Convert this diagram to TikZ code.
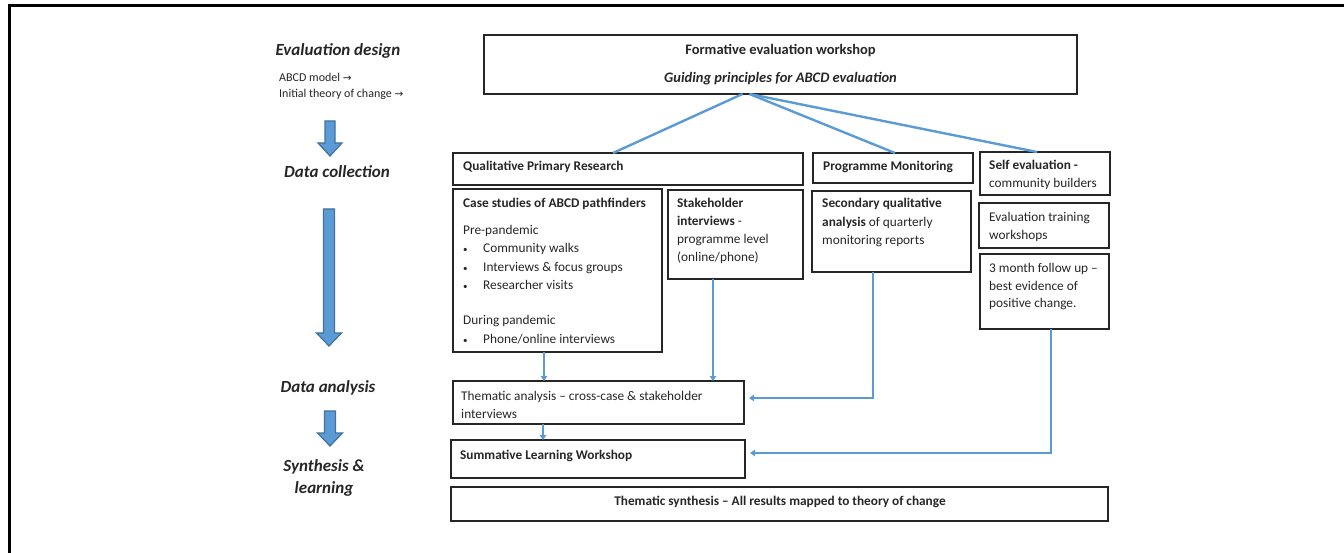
\documentclass[tikz,border=0pt]{standalone}
\usepackage{fontspec}
\setmainfont{Carlito}
\newfontfamily\symfont{DejaVu Sans}
\usetikzlibrary{arrows.meta,fit}
\definecolor{lineblue}{HTML}{5B9BD5}
\definecolor{arrowedge}{HTML}{41719C}
\definecolor{ink}{HTML}{262626}
\newcommand\bul{\makebox[20pt][l]{\fontsize{9}{9}\selectfont\textbullet}}
\newcommand\rarr{{\symfont\fontsize{10.5}{10}\selectfont→}}
\begin{document}
\begin{tikzpicture}[x=1pt,y=-1pt,
  box/.style={draw=black!85, line width=1.5pt, inner sep=0pt, outer sep=0pt},
  txt/.style={anchor=base west, inner sep=0pt, align=left, text=ink, font=\fontsize{13.3}{18}\selectfont},
  ctxt/.style={anchor=base, inner sep=0pt, align=center, text=ink},
  stage/.style={anchor=base, inner sep=0pt, align=center, text=ink, font=\fontsize{17}{22}\selectfont\bfseries\itshape},
  small/.style={anchor=base west, inner sep=0pt, text=ink, font=\fontsize{12}{14}\selectfont},
  fanline/.style={draw=lineblue, line width=2.4pt},
  flow/.style={draw=lineblue, line width=1.8pt, -{Triangle[length=5pt,width=6.5pt]}},
  bigarrow/.style={fill=lineblue, draw=arrowedge, line width=1.2pt, line join=miter},
]
\useasboundingbox (0,0) rectangle (1344,553);
% outer frame (top and left edges only)
\draw[line width=3pt] (9.5,553) -- (9.5,5.5) -- (1344,5.5);

% stage labels
\node[stage] (evald) at (338,56) {Evaluation design};
\node[small] (abcd) at (279,82) {ABCD model \rarr};
\node[small] (itoc) at (279,98) {Initial theory of change \rarr};
\node[stage] (dcoll) at (337,178) {Data collection};
\node[stage] (danal) at (328,392) {Data analysis};
\node[stage] (synth) at (324,493) {Synthesis \&\\learning};

% big arrows
\draw[bigarrow] (325,121) -- (335,121) -- (335,143) -- (342,143) -- (330,156) -- (318,143) -- (325,143) -- cycle;
\draw[bigarrow] (323.5,209) -- (334.5,209) -- (334.5,333) -- (341.5,333) -- (329,346) -- (316.5,333) -- (323.5,333) -- cycle;
\draw[bigarrow] (324.5,411) -- (335.5,411) -- (335.5,433) -- (342.5,433) -- (330,446) -- (317.5,433) -- (324.5,433) -- cycle;

% boxes
\node[box, fit={(484,35) (1077,94)}] (top) {};
\node[box, fit={(453,153) (803,185)}] (qpr) {};
\node[box, fit={(813,153) (973,183)}] (pm) {};
\node[box, fit={(980,152) (1110,195)}] (se) {};
\node[box, fit={(453,189) (662,352)}] (case) {};
\node[box, fit={(668,190) (803,279)}] (stake) {};
\node[box, fit={(812,191) (971,272)}] (sec) {};
\node[box, fit={(979,203) (1109,248)}] (etw) {};
\node[box, fit={(980,254) (1109,329)}] (three) {};
\node[box, fit={(453,381) (744,424)}] (tha) {};
\node[box, fit={(451,440) (745,478)}] (sum) {};
\node[box, fit={(451,487) (1108,521)}] (syn) {};

% box texts (multi-line nodes are anchored at the baseline of their last line)
\node[ctxt, font=\fontsize{14.5}{18}\selectfont\bfseries] (toptitle) at (780.5,55) {Formative evaluation workshop};
\node[ctxt, font=\fontsize{14.5}{18}\selectfont\bfseries\itshape] (topsub) at (780.5,83) {Guiding principles for ABCD evaluation};
\node[txt, font=\fontsize{13.3}{18}\selectfont\bfseries] (qprt) at (463,171) {Qualitative Primary Research};
\node[txt, font=\fontsize{13.3}{18}\selectfont\bfseries] (pmt) at (823,171) {Programme Monitoring};
\node[txt] (set) at (989,188) {\textbf{Self evaluation -}\\community builders};
\node[txt] (caset) at (463,343) {\textbf{Case studies of ABCD pathfinders}\\[9pt]
Pre-pandemic\\
\bul Community walks\\
\bul Interviews \& focus groups\\
\bul Researcher visits\\
\mbox{}\\
During pandemic\\
\bul Phone/online interviews};
\node[txt] (staket) at (677,262) {\textbf{Stakeholder}\\\textbf{interviews} -\\programme level\\(online/phone)};
\node[txt, font=\fontsize{13.3}{18.5}\selectfont] (sect) at (822,245) {\textbf{Secondary qualitative}\\\textbf{analysis} of quarterly\\monitoring reports};
\node[txt, font=\fontsize{13.3}{17.5}\selectfont] (etwt) at (989,239.5) {Evaluation training\\workshops};
\node[txt, font=\fontsize{13.3}{17.5}\selectfont] (threet) at (989,308) {3 month follow up –\\best evidence of\\positive change.};
\node[txt] (that) at (461,418) {Thematic analysis – cross-case \& stakeholder\\interviews};
\node[txt, font=\fontsize{13.3}{18}\selectfont\bfseries] (sumt) at (460,459) {Summative Learning Workshop};
\node[ctxt, font=\fontsize{13.3}{18}\selectfont\bfseries] (synt) at (780,505) {Thematic synthesis – All results mapped to theory of change};

% fan connectors from the formative workshop
\draw[fanline] ([xshift=-38pt]top.south) -- ([xshift=-15pt]qpr.north);
\draw[fanline] ([xshift=-31pt]top.south) -- ([xshift=2pt]pm.north);
\draw[fanline] ([xshift=-31pt]top.south) -- ([xshift=-8pt]se.north);

% flow connectors
\draw[flow] ([xshift=-13.5pt]case.south) -- ([xshift=-13.5pt]case.south |- tha.north);
\draw[flow] ([xshift=-22.5pt]stake.south) -- ([xshift=-22.5pt]stake.south |- tha.north);
\draw[flow, shorten >=5pt] ([xshift=-18.5pt]sec.south) |- ([yshift=4.5pt]tha.east);
\draw[flow] ([xshift=-55.5pt]tha.south) -- ([xshift=-55.5pt]tha.south |- sum.north);
\draw[flow, shorten >=5pt] ([xshift=6.5pt]three.south) |- ([yshift=6pt]sum.east);
\end{tikzpicture}
\end{document}
